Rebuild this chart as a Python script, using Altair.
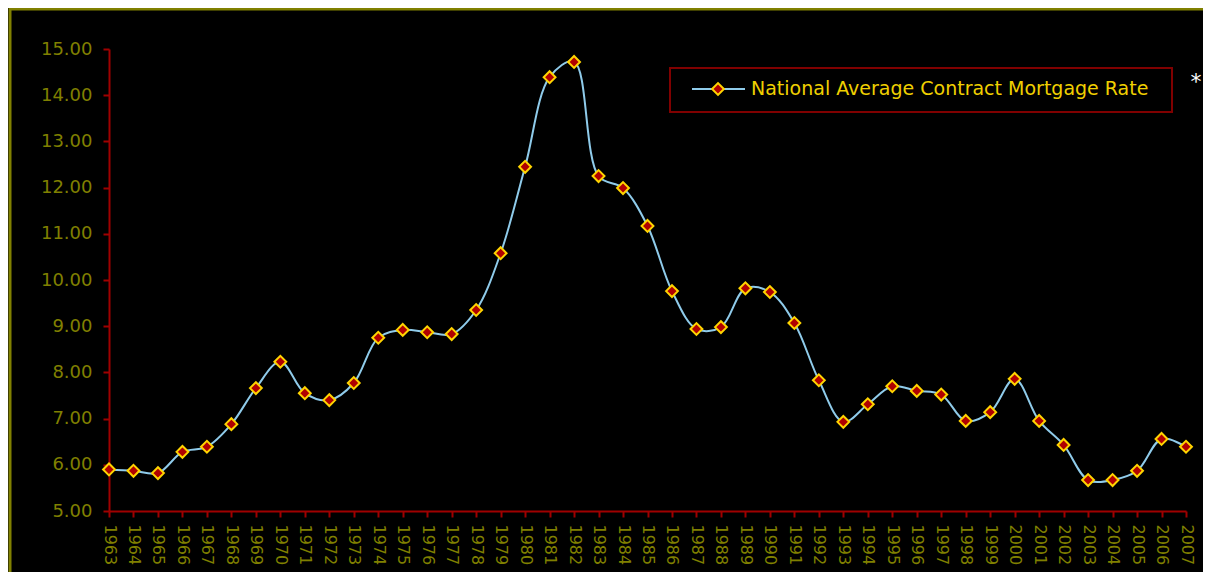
import altair as alt
import pandas as pd

years = [str(y) for y in range(1963, 2008)]
rates = [5.90, 5.87, 5.82, 6.28, 6.39, 6.88, 7.66, 8.23, 7.55, 7.40,
         7.77, 8.75, 8.92, 8.87, 8.83, 9.35, 10.58, 12.45, 14.39, 14.72,
         12.25, 11.99, 11.17, 9.76, 8.94, 8.98, 9.82, 9.74, 9.07, 7.83,
         6.93, 7.31, 7.70, 7.60, 7.52, 6.95, 7.14, 7.86, 6.95, 6.43,
         5.67, 5.67, 5.87, 6.56, 6.39]
series_name = ["National Average Contract Mortgage Rate"]
y_ticks = [5, 6, 7, 8, 9, 10, 11, 12, 13, 14, 15]

df = pd.DataFrame({"Year": years, "Rate": rates})
one = pd.DataFrame({"label": series_name})

W, H = 1077, 462
FONT = "DejaVu Sans"
AXIS_RED = "#A00000"
OLIVE = "#808000"
LINE_BLUE = "#8FCBEA"

x_enc = alt.X("Year:O", scale=alt.Scale(type="point", padding=0),
              axis=alt.Axis(title=None, labelAngle=90, labelColor=OLIVE,
                            labelFont=FONT, labelFontSize=16, labelPadding=7,
                            domainColor=AXIS_RED, domainWidth=2,
                            tickColor=AXIS_RED, tickSize=6, tickWidth=2,
                            labelOverlap=False, grid=False))
y_enc = alt.Y("Rate:Q", scale=alt.Scale(domain=[5, 15], nice=False, zero=False),
              axis=alt.Axis(title=None, values=y_ticks, format=".2f",
                            labelColor=OLIVE, labelFont=FONT, labelFontSize=18,
                            labelPadding=11, domainColor=AXIS_RED, domainWidth=2,
                            tickColor=AXIS_RED, tickSize=6, tickWidth=2, grid=False))

line = alt.Chart(df).mark_line(interpolate="catmull-rom", color=LINE_BLUE,
                               strokeWidth=2).encode(x=x_enc, y=y_enc)
pts = alt.Chart(df).mark_point(shape="diamond", filled=True, fill="#B00000",
                               stroke="#FFD400", strokeWidth=2, size=140,
                               opacity=1).encode(x=x_enc, y=y_enc)

frame = alt.Chart(one).mark_rect(fill=None, stroke=OLIVE, strokeWidth=3).encode(
    x=alt.value(-99), x2=alt.value(W + 40), y=alt.value(-40), y2=alt.value(H + 120))

leg_box = alt.Chart(one).mark_rect(fill=None, stroke="#800000", strokeWidth=2).encode(
    x=alt.value(561), x2=alt.value(1063), y=alt.value(19), y2=alt.value(63))
leg_line = alt.Chart(one).mark_rule(color=LINE_BLUE, strokeWidth=2).encode(
    x=alt.value(583), x2=alt.value(636), y=alt.value(40))
leg_pt = alt.Chart(one).mark_point(shape="diamond", filled=True, fill="#B00000",
                                   stroke="#FFD400", strokeWidth=2, size=140,
                                   opacity=1).encode(x=alt.value(609), y=alt.value(40))
leg_txt = alt.Chart(one).mark_text(align="left", baseline="middle", font=FONT,
                                   fontSize=19, color="#F0D000").encode(
    x=alt.value(642), y=alt.value(40), text="label:N")
star = alt.Chart(one).mark_text(align="center", baseline="middle", font=FONT,
                                fontSize=22, color="white").encode(
    x=alt.value(1087), y=alt.value(33), text=alt.value("*"))

chart = alt.layer(frame, line, pts, leg_box, leg_line, leg_pt, leg_txt, star).properties(
    width=W, height=H,
    autosize=alt.AutoSizeParams(type="none"),
    padding={"left": 101, "top": 41, "right": 17, "bottom": 61},
    background="black",
).configure_view(stroke=None)

chart.save("out.html", embed_options={"renderer": "svg", "actions": False})
